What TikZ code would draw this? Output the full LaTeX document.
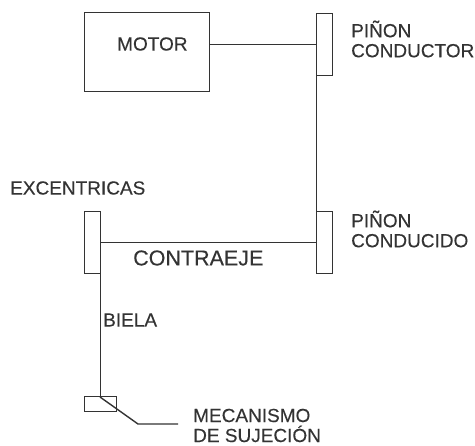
\documentclass[tikz,border=0pt]{standalone}
\usepackage{fontspec}
\setmainfont{Liberation Sans}
\newfontfamily\labfont[FakeBold=0.25]{Liberation Sans}
\definecolor{ink}{gray}{0.2}
\tikzset{
  part/.style={draw=ink, line width=1pt, inner sep=0pt, outer sep=0pt},
  gear/.style={part, minimum width=16pt, minimum height=62pt},
  lab/.style={text=ink, font=\labfont\fontsize{19}{20}\selectfont, align=left, anchor=west, inner sep=0pt},
  link/.style={draw=ink, line width=1pt}
}
\begin{document}
\begin{tikzpicture}[x=1pt, y=-1pt]
  \useasboundingbox (0, 0) rectangle (475, 446);

  \node[part, minimum width=125pt, minimum height=79pt] (motor) at (146.5, 52.5) {};
  \node[gear] (pinA) at (324, 45) {};
  \node[gear] (pinB) at (324, 243) {};
  \node[gear] (exc) at (92, 243) {};
  \node[part, minimum width=32pt, minimum height=15pt] (clamp) at (100, 404.5) {};

  \node[lab] (tmotor) at (117, 44) {MOTOR};
  \node[lab] (tpinA) at (351, 39) {PIÑON\\CONDUCTOR};
  \node[lab] (tpinB) at (351, 229) {PIÑON\\CONDUCIDO};
  \node[lab] (texc) at (10, 188) {EXCENTRICAS};
  \node[lab, font=\labfont\fontsize{21.5}{24}\selectfont] (tcontra) at (133, 258) {CONTRAEJE};
  \node[lab] (tbiela) at (103, 320) {BIELA};
  \node[lab] (tmec) at (193, 425.5) {MECANISMO\\DE SUJECIÓN};

  \coordinate (elbow) at (138, 424);
  \coordinate (tip) at (178, 424);

  \draw[link] (motor.east |- pinA.west) -- (pinA.west);
  \draw[link] (pinA.south west) -- (pinB.north west);
  \draw[link] (exc.east) -- (pinB.west);
  \draw[link] (exc.south east) -- (clamp.north);
  \draw[link, line width=1.4pt] (clamp.north) -- (elbow) -- (tip);
\end{tikzpicture}
\end{document}
